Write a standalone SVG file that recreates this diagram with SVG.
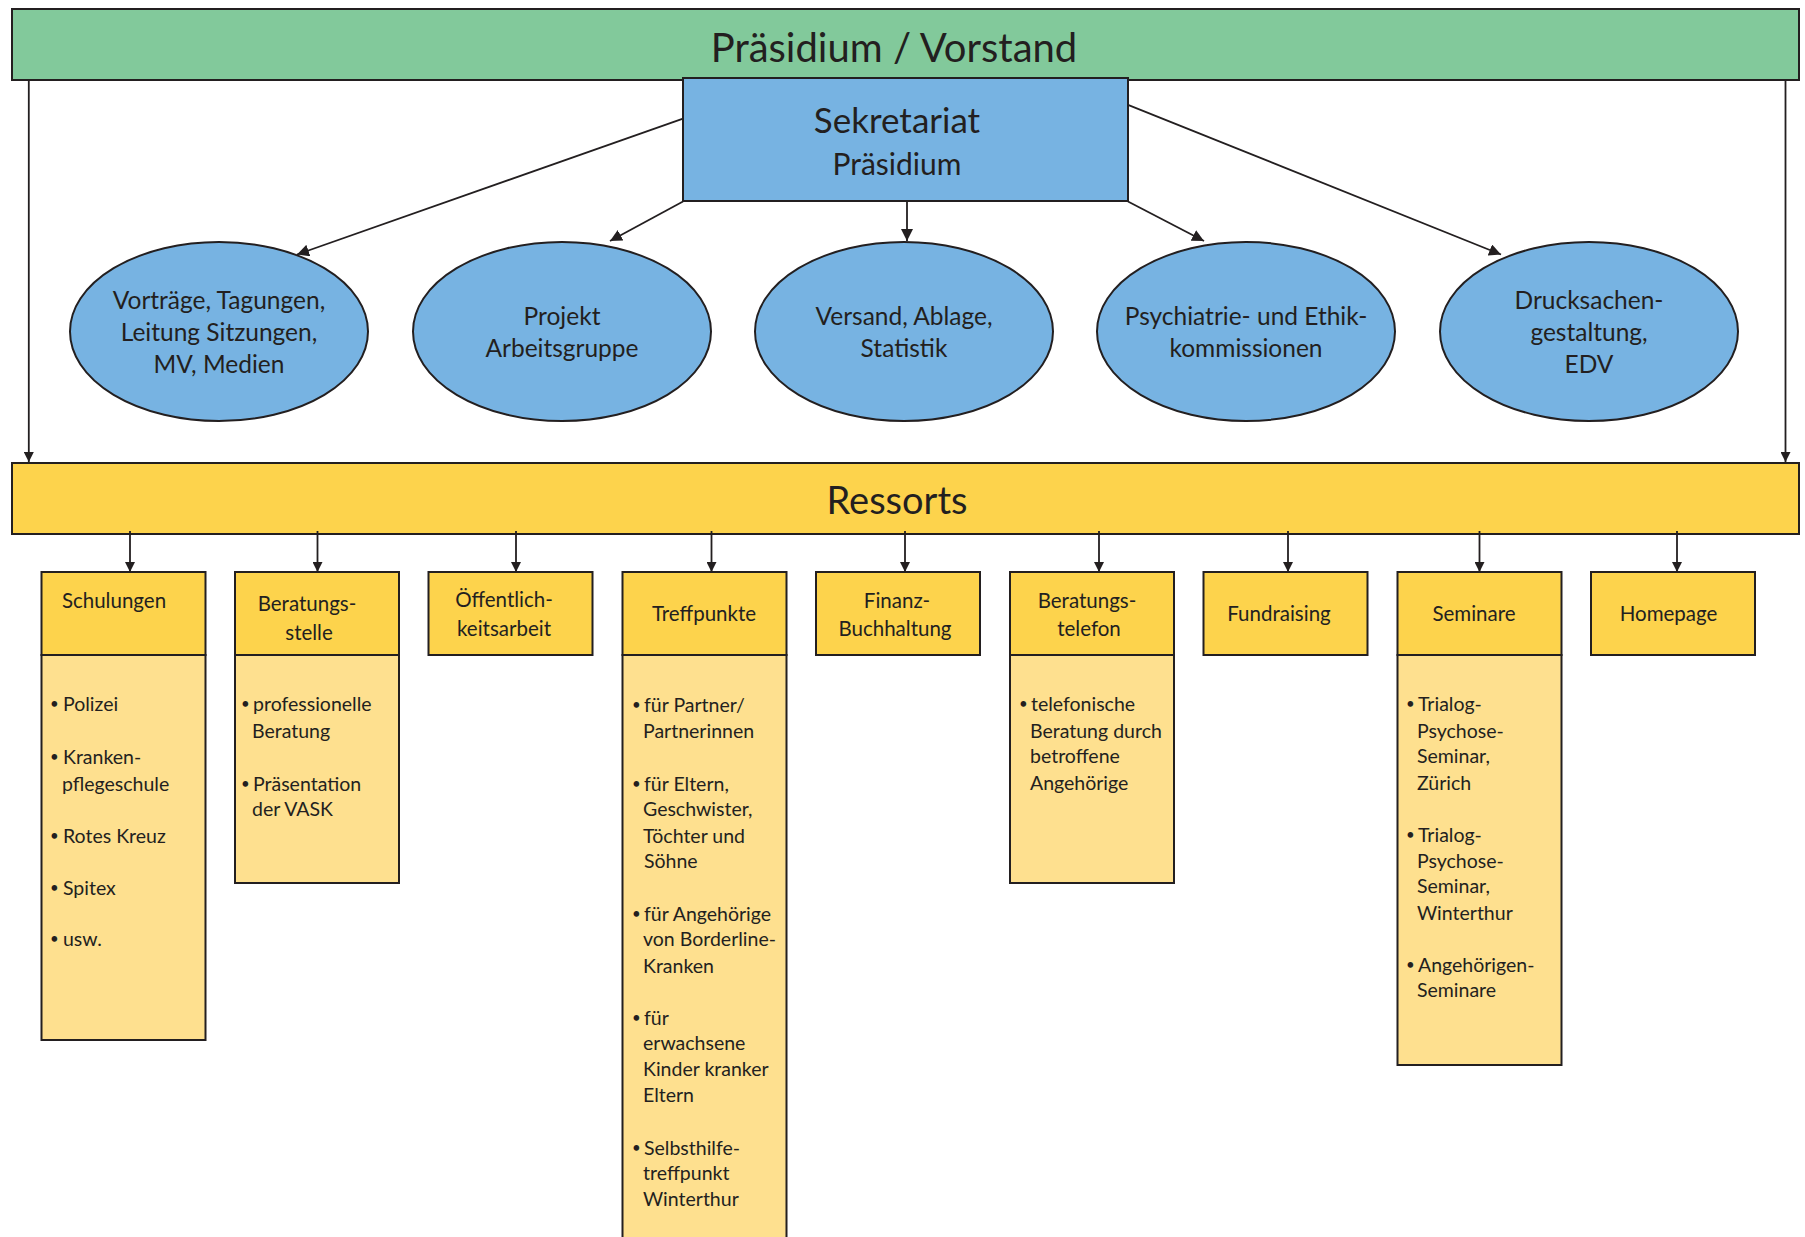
<svg xmlns="http://www.w3.org/2000/svg" width="1805" height="1237" viewBox="0 0 1805 1237">
<defs>
<marker id="ah" viewBox="0 0 10 10" refX="10" refY="5" markerWidth="10" markerHeight="10" markerUnits="userSpaceOnUse" orient="auto">
<path d="M0,0 L10,5 L0,10 z" fill="#231f20"/>
</marker>
<marker id="ahs" viewBox="0 0 10 10" refX="10" refY="5" markerWidth="12" markerHeight="12" markerUnits="userSpaceOnUse" orient="auto">
<path d="M0,0 L10,5 L0,10 z" fill="#231f20"/>
</marker>
</defs>
<style>
.bar{stroke:#231f20;stroke-width:2}
.green{fill:#82c99b}
.blue{fill:#77b3e2}
.yel{fill:#fdd34c}
.lyel{fill:#fee08f}
.box{stroke:#231f20;stroke-width:2}
text{font-family:Lato,"Open Sans","Liberation Sans",sans-serif;fill:#231f20}
.big{font-size:40px}
.sek{font-size:35px}
.sek2{font-size:30px}
.ell{font-size:24.5px;text-anchor:middle}
.hd{font-size:20.5px;text-anchor:middle}
.dt{font-size:19.5px}
.b{font-size:15px}
.c{text-anchor:middle}
.conn{stroke:#231f20;stroke-width:1.8;fill:none}
</style>
<rect width="1805" height="1237" fill="#ffffff"/>

<g id="praesidium">
<rect x="12" y="9" width="1787" height="71" class="green bar"/>
<text x="894" y="62" class="big c">Präsidium / Vorstand</text>
</g>

<g id="sekretariat">
<rect x="683" y="78" width="445" height="123" class="blue box"/>
<text x="897" y="133" class="sek c">Sekretariat</text>
<text x="897" y="175" class="sek2 c">Präsidium</text>
</g>

<g id="e1">
<ellipse cx="219" cy="331.5" rx="149" ry="89.5" class="blue box"/>
<text class="ell" x="219" y="309">Vorträge, Tagungen,</text>
<text class="ell" x="219" y="341">Leitung Sitzungen,</text>
<text class="ell" x="219" y="373">MV, Medien</text>
</g>
<g id="e2">
<ellipse cx="562" cy="331.5" rx="149" ry="89.5" class="blue box"/>
<text class="ell" x="562" y="325">Projekt</text>
<text class="ell" x="562" y="357">Arbeitsgruppe</text>
</g>
<g id="e3">
<ellipse cx="904" cy="331.5" rx="149" ry="89.5" class="blue box"/>
<text class="ell" x="904" y="325">Versand, Ablage,</text>
<text class="ell" x="904" y="357">Statistik</text>
</g>
<g id="e4">
<ellipse cx="1246" cy="331.5" rx="149" ry="89.5" class="blue box"/>
<text class="ell" x="1246" y="325">Psychiatrie- und Ethik-</text>
<text class="ell" x="1246" y="357">kommissionen</text>
</g>
<g id="e5">
<ellipse cx="1589" cy="331.5" rx="149" ry="89.5" class="blue box"/>
<text class="ell" x="1589" y="309">Drucksachen-</text>
<text class="ell" x="1589" y="341">gestaltung,</text>
<text class="ell" x="1589" y="373">EDV</text>
</g>

<g id="ressorts">
<rect x="12" y="463" width="1787" height="71" class="yel bar"/>
<text x="897" y="514" font-size="38" class="c">Ressorts</text>
</g>

<g id="schulungen">
<rect x="41.5" y="572" width="164" height="83" class="yel box"/>
<rect x="41.5" y="655" width="164" height="385" class="lyel box"/>
<text class="hd" x="114" y="608">Schulungen</text>
<g class="dt">
<text class="b" x="50" y="709">•</text><text x="63" y="711">Polizei</text>
<text class="b" x="50" y="762">•</text><text x="63" y="764">Kranken-</text>
<text x="62" y="791">pflegeschule</text>
<text class="b" x="50" y="840.5">•</text><text x="63" y="842.5">Rotes Kreuz</text>
<text class="b" x="50" y="892.5">•</text><text x="63" y="894.5">Spitex</text>
<text class="b" x="50" y="944">•</text><text x="63" y="946">usw.</text>
</g>
</g>

<g id="beratungsstelle">
<rect x="235" y="572" width="164" height="83" class="yel box"/>
<rect x="235" y="655" width="164" height="228" class="lyel box"/>
<text class="hd" x="307" y="611">Beratungs-</text>
<text class="hd" x="309" y="640">stelle</text>
<g class="dt">
<text class="b" x="241" y="709">•</text><text x="253" y="711">professionelle</text>
<text x="252" y="738">Beratung</text>
<text class="b" x="241" y="789">•</text><text x="253" y="791">Präsentation</text>
<text x="252" y="816">der VASK</text>
</g>
</g>

<g id="oeffentlichkeitsarbeit">
<rect x="428.5" y="572" width="164" height="83" class="yel box"/>
<text class="hd" x="504" y="607">Öffentlich-</text>
<text class="hd" x="504" y="636">keitsarbeit</text>
</g>

<g id="treffpunkte">
<rect x="622.5" y="572" width="164" height="83" class="yel box"/>
<rect x="622.5" y="655" width="164" height="595" class="lyel box"/>
<text class="hd" x="704" y="621">Treffpunkte</text>
<g class="dt">
<text class="b" x="632" y="709.5">•</text><text x="644" y="711.5">für Partner/</text>
<text x="643" y="738">Partnerinnen</text>
<text class="b" x="632" y="789">•</text><text x="644" y="791">für Eltern,</text>
<text x="643" y="816">Geschwister,</text>
<text x="643" y="842.5">Töchter und</text>
<text x="644" y="868">Söhne</text>
<text class="b" x="632" y="919">•</text><text x="644" y="921">für Angehörige</text>
<text x="643" y="946">von Borderline-</text>
<text x="643" y="972.5">Kranken</text>
<text class="b" x="632" y="1022.5">•</text><text x="644" y="1024.5">für</text>
<text x="643" y="1050">erwachsene</text>
<text x="643" y="1076">Kinder kranker</text>
<text x="643" y="1101.5">Eltern</text>
<text class="b" x="632" y="1152.5">•</text><text x="644" y="1154.5">Selbsthilfe-</text>
<text x="643" y="1180">treffpunkt</text>
<text x="643" y="1206">Winterthur</text>
</g>
</g>

<g id="finanz">
<rect x="816" y="572" width="164" height="83" class="yel box"/>
<text class="hd" x="897" y="608">Finanz-</text>
<text class="hd" x="895" y="636">Buchhaltung</text>
</g>

<g id="beratungstelefon">
<rect x="1010" y="572" width="164" height="83" class="yel box"/>
<rect x="1010" y="655" width="164" height="228" class="lyel box"/>
<text class="hd" x="1087" y="608">Beratungs-</text>
<text class="hd" x="1089" y="636">telefon</text>
<g class="dt">
<text class="b" x="1019" y="709">•</text><text x="1031" y="711">telefonische</text>
<text x="1030" y="738">Beratung durch</text>
<text x="1030" y="763">betroffene</text>
<text x="1030" y="790">Angehörige</text>
</g>
</g>

<g id="fundraising">
<rect x="1203.5" y="572" width="164" height="83" class="yel box"/>
<text class="hd" x="1279" y="621">Fundraising</text>
</g>

<g id="seminare">
<rect x="1397.5" y="572" width="164" height="83" class="yel box"/>
<rect x="1397.5" y="655" width="164" height="410" class="lyel box"/>
<text class="hd" x="1474" y="621">Seminare</text>
<g class="dt">
<text class="b" x="1406" y="709">•</text><text x="1418" y="711">Trialog-</text>
<text x="1417" y="738">Psychose-</text>
<text x="1417" y="763">Seminar,</text>
<text x="1417" y="790">Zürich</text>
<text class="b" x="1406" y="839.5">•</text><text x="1418" y="841.5">Trialog-</text>
<text x="1417" y="868">Psychose-</text>
<text x="1417" y="893">Seminar,</text>
<text x="1417" y="920">Winterthur</text>
<text class="b" x="1406" y="969.5">•</text><text x="1418" y="971.5">Angehörigen-</text>
<text x="1417" y="997">Seminare</text>
</g>
</g>

<g id="homepage">
<rect x="1591" y="572" width="164" height="83" class="yel box"/>
<text class="hd" x="1668.5" y="621">Homepage</text>
</g>

<g id="connectors" class="conn">
<line x1="683" y1="118.6" x2="297" y2="254.5" marker-end="url(#ahs)"/>
<line x1="683" y1="201.5" x2="610" y2="241" marker-end="url(#ahs)"/>
<line x1="907" y1="201.5" x2="907" y2="241" marker-end="url(#ahs)"/>
<line x1="1128" y1="201.5" x2="1204" y2="241" marker-end="url(#ahs)"/>
<line x1="1128" y1="104.8" x2="1501" y2="254.5" marker-end="url(#ahs)"/>
<line x1="28.8" y1="80" x2="28.8" y2="462" marker-end="url(#ah)"/>
<line x1="1785.5" y1="80" x2="1785.5" y2="462" marker-end="url(#ah)"/>
<line x1="130" y1="531" x2="130" y2="572" marker-end="url(#ah)"/>
<line x1="317.5" y1="531" x2="317.5" y2="572" marker-end="url(#ah)"/>
<line x1="516" y1="531" x2="516" y2="572" marker-end="url(#ah)"/>
<line x1="711.5" y1="531" x2="711.5" y2="572" marker-end="url(#ah)"/>
<line x1="905" y1="531" x2="905" y2="572" marker-end="url(#ah)"/>
<line x1="1099" y1="531" x2="1099" y2="572" marker-end="url(#ah)"/>
<line x1="1288" y1="531" x2="1288" y2="572" marker-end="url(#ah)"/>
<line x1="1479.5" y1="531" x2="1479.5" y2="572" marker-end="url(#ah)"/>
<line x1="1677" y1="531" x2="1677" y2="572" marker-end="url(#ah)"/>
</g>
</svg>
